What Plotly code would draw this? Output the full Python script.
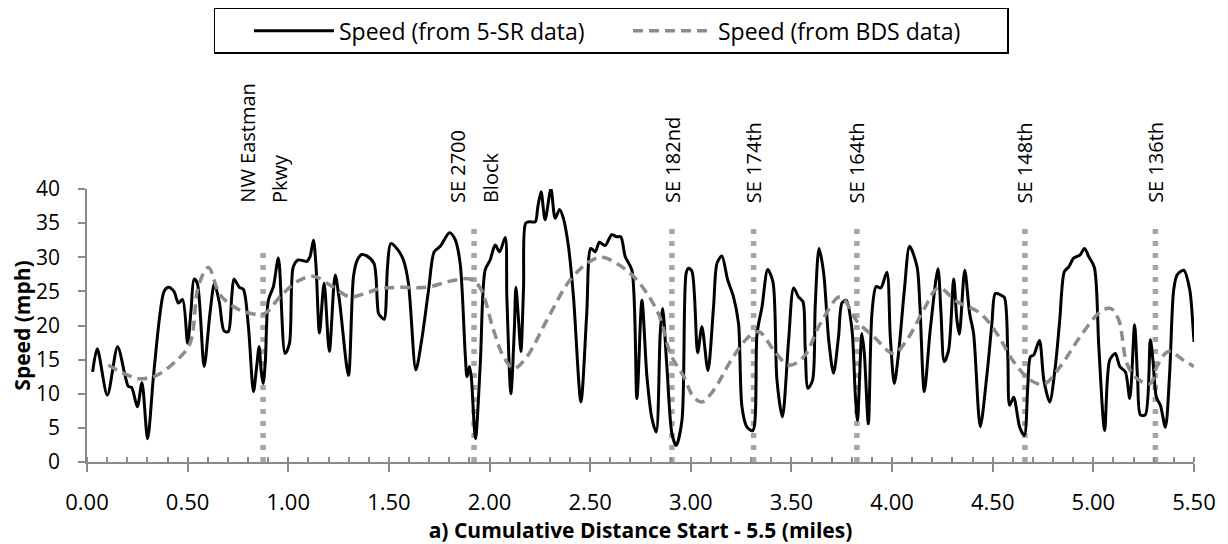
import plotly.graph_objects as go

# ---- data -------------------------------------------------------------
dist_sr = [0.028,0.051,0.101,0.152,0.189,0.205,0.222,0.25,0.273,0.301,0.33,0.363,0.383,0.404,0.432,0.454,0.475,0.5,0.517,0.532,
           0.548,0.582,0.611,0.633,0.658,0.681,0.702,0.719,0.73,0.757,0.777,0.802,0.827,0.843,0.855,0.865,0.875,0.886,0.901,0.926,
           0.951,0.984,1.006,1.025,1.05,1.092,1.108,1.125,1.138,1.155,1.178,1.204,1.233,1.254,1.299,1.324,1.343,1.365,1.39,1.426,
           1.448,1.46,1.476,1.493,1.509,1.539,1.572,1.597,1.634,1.663,1.697,1.725,1.755,1.801,1.829,1.854,1.879,1.888,1.9,1.909,
           1.93,1.954,1.978,2.003,2.028,2.05,2.078,2.086,2.106,2.123,2.131,2.144,2.156,2.169,2.18,2.202,2.227,2.24,2.256,2.276,
           2.305,2.326,2.348,2.367,2.392,2.417,2.454,2.483,2.503,2.525,2.546,2.574,2.607,2.632,2.652,2.674,2.707,2.732,2.757,2.782,
           2.806,2.828,2.848,2.86,2.881,2.906,2.927,2.956,2.977,2.989,3.006,3.034,3.055,3.085,3.113,3.13,3.154,3.183,3.212,3.237,
           3.254,3.279,3.308,3.329,3.354,3.382,3.408,3.428,3.455,3.486,3.511,3.535,3.557,3.568,3.582,3.605,3.618,3.637,3.66,3.685,
           3.709,3.734,3.751,3.772,3.8,3.817,3.828,3.85,3.862,3.882,3.9,3.921,3.944,3.974,3.991,4.011,4.032,4.061,4.087,4.124,
           4.138,4.16,4.19,4.228,4.243,4.259,4.281,4.306,4.322,4.334,4.361,4.385,4.405,4.438,4.472,4.496,4.513,4.538,4.558,4.575,
           4.584,4.604,4.634,4.657,4.674,4.687,4.704,4.732,4.754,4.783,4.811,4.833,4.856,4.878,4.903,4.933,4.956,4.977,5.005,5.027,
           5.056,5.081,5.109,5.131,5.159,5.181,5.205,5.22,5.234,5.258,5.283,5.296,5.313,5.333,5.358,5.379,5.399,5.416,5.449,5.479,
           5.495,5.5]
speed_sr = [13.2,16.6,9.8,16.9,12.7,11.1,10.9,8.1,11.6,3.4,12.5,21.8,25.0,25.6,25.0,23.3,23.8,17.4,22.3,26.8,
            26.2,14.0,21.8,26.1,23.3,19.2,19.1,24.2,26.8,25.6,25.3,19.8,10.3,14.0,16.9,13.5,11.5,14.7,23.7,25.7,
            29.9,15.9,17.4,28.6,29.6,29.4,30.1,32.5,28.6,18.9,26.2,16.2,27.4,23.7,12.7,27.2,29.6,30.4,30.2,29.1,
            21.8,21.3,20.9,28.6,32.0,31.3,29.6,26.2,13.5,17.9,25.2,30.8,31.6,33.6,32.6,29.1,15.9,12.5,14.0,12.5,
            3.4,14.4,28.1,29.6,31.8,30.8,32.9,24.2,10.0,19.3,25.6,20.8,16.2,25.7,35.0,35.2,35.2,37.4,39.6,35.5,
            40.0,35.7,37.0,35.7,31.6,24.2,8.8,21.8,31.3,30.8,32.2,31.7,33.3,33.0,33.0,30.1,28.1,9.3,23.7,12.5,
            6.5,4.4,18.8,22.5,14.0,4.2,2.4,6.1,27.7,28.4,27.9,16.0,19.8,13.4,22.8,29.1,30.2,26.7,24.2,20.3,
            8.1,5.1,4.6,18.8,22.8,28.2,26.4,12.0,6.6,17.9,25.5,24.2,23.5,16.9,10.8,12.0,22.8,31.3,27.7,17.9,
            13.0,18.4,23.3,23.7,19.6,10.0,6.1,18.8,15.9,5.6,21.8,25.7,25.5,27.8,18.4,11.5,15.9,25.2,31.6,28.6,
            23.0,10.3,19.5,28.3,21.8,14.7,16.4,26.8,20.8,18.7,28.1,21.8,18.8,5.2,13.0,20.3,24.7,24.5,24.1,15.4,
            8.3,9.5,5.1,3.9,11.0,15.4,15.7,17.8,12.0,8.8,14.0,20.8,27.9,28.6,29.9,30.3,31.3,30.1,28.5,16.9,
            4.6,14.9,15.9,14.0,13.2,9.3,20.1,12.0,6.9,6.9,17.9,14.9,9.5,8.3,5.1,13.0,25.2,27.4,28.1,25.2,
            19.8,17.6]

dist_bds = [0.106,0.18,0.263,0.346,0.446,0.512,0.553,0.603,0.661,0.744,0.827,0.885,0.959,1.042,1.125,1.208,1.307,1.39,
            1.456,1.556,1.688,1.804,1.904,1.954,2.02,2.07,2.12,2.185,2.285,2.401,2.5,2.558,2.632,2.715,2.782,2.845,
            2.898,2.965,3.014,3.055,3.113,3.196,3.279,3.337,3.412,3.486,3.561,3.644,3.743,3.826,3.908,4.008,4.074,4.157,
            4.231,4.322,4.438,4.521,4.604,4.687,4.754,4.836,4.935,5.035,5.085,5.126,5.167,5.217,5.283,5.316,5.374,5.449,5.5]
speed_bds = [14.2,13.0,12.2,12.7,14.9,17.4,25.7,28.5,24.5,22.5,21.7,21.8,24.2,26.4,27.2,25.9,24.2,24.8,
             25.4,25.6,25.6,26.5,26.8,25.5,19.3,15.4,13.7,15.4,20.8,26.7,29.4,30.0,29.1,27.2,24.7,21.3,
             15.9,12.5,9.5,8.8,10.5,14.7,18.1,19.1,16.4,14.2,15.4,20.3,24.2,20.6,18.4,15.9,17.9,22.3,
             25.5,23.5,21.8,18.8,14.7,12.0,11.4,14.0,18.4,22.0,22.5,20.8,14.4,12.2,11.5,14.0,16.2,14.9,14.0]

road_labels = [["NW Eastman", "Pkwy"], ["SE 2700", "Block"], ["SE 182nd"], ["SE 174th"],
               ["SE 164th"], ["SE 148th"], ["SE 136th"]]
road_dist = [0.875, 1.923, 2.906, 3.312, 3.825, 4.66, 5.308]
road_top = [31.0, 34.5, 34.5, 34.5, 34.5, 34.5, 34.5]

series_names = ["Speed (from 5-SR data)", "Speed (from BDS data)"]
x_ticks = [0, 0.5, 1.0, 1.5, 2.0, 2.5, 3.0, 3.5, 4.0, 4.5, 5.0, 5.5]
y_ticks = [0, 5, 10, 15, 20, 25, 30, 35, 40]

FONT = "Open Sans"
AXIS_GREY = "#8a8a8a"

fig = go.Figure()

# vertical dotted road markers
for xd, top in zip(road_dist, road_top):
    fig.add_trace(go.Scatter(
        x=[xd, xd], y=[0, top], mode="lines", showlegend=False, hoverinfo="skip",
        line=dict(color="#a6a6a6", width=5.5, dash="5px,7px"), cliponaxis=False))

fig.add_trace(go.Scatter(
    x=dist_sr, y=speed_sr, mode="lines", name=series_names[0],
    line=dict(color="black", width=3, shape="spline", smoothing=0.8), cliponaxis=False))
fig.add_trace(go.Scatter(
    x=dist_bds, y=speed_bds, mode="lines", name=series_names[1],
    line=dict(color="#8c8c8c", width=3.5, dash="10px,6px", shape="spline", smoothing=1.0), cliponaxis=False))

# road labels (rotated)
for labels, xd in zip(road_labels, road_dist):
    n = len(labels)
    for i, txt in enumerate(labels):
        fig.add_annotation(
            x=xd, xref="x", y=0.945, yref="paper", text=txt, textangle=-90,
            showarrow=False, xanchor="center", yanchor="bottom", borderpad=0,
            xshift=(i - (n - 1) / 2) * 33,
            font=dict(family=FONT, size=20, color="black"))

# the page body has an 8px margin, so the figure is 8px smaller than the window
fig.update_layout(
    width=1220, height=536,
    margin=dict(l=79, r=34, t=181, b=82, autoexpand=False),
    paper_bgcolor="white", plot_bgcolor="white",
    font=dict(family=FONT, color="black"),
    showlegend=True,
    legend=dict(orientation="h", x=0.4734, xanchor="center", y=1.664, yanchor="top",
                bordercolor="black", borderwidth=1.5, bgcolor="white",
                font=dict(family=FONT, size=23, color="black"),
                title=dict(text="&nbsp;&nbsp;&nbsp;&nbsp;", side="left",
                           font=dict(family=FONT, size=23, color="black")),
                itemwidth=80, entrywidth=284, entrywidthmode="pixels"),
    xaxis=dict(range=[0, 5.5], tickvals=x_ticks, tickformat=".2f", automargin=False,
               showgrid=False, zeroline=False, showline=True, linecolor=AXIS_GREY, linewidth=1.5,
               ticks="outside", ticklen=8, tickwidth=1.5, tickcolor=AXIS_GREY, ticklabelstandoff=12,
               minor=dict(dtick=0.1, ticks="inside", ticklen=5, tickwidth=1.5, tickcolor=AXIS_GREY),
               tickfont=dict(family=FONT, size=22, color="black"),
               title=dict(text="<b>a) Cumulative Distance Start - 5.5 (miles)</b>",
                          font=dict(family=FONT, size=21, color="black"), standoff=2)),
    yaxis=dict(range=[0, 40], tickvals=y_ticks, automargin=False,
               showgrid=False, zeroline=False, showline=True, linecolor=AXIS_GREY, linewidth=1.5,
               ticks="outside", ticklen=7, tickwidth=1.5, tickcolor=AXIS_GREY, ticklabelstandoff=14,
               tickfont=dict(family=FONT, size=21, color="black"),
               title=dict(text="<b>Speed (mph)</b>",
                          font=dict(family=FONT, size=21, color="black"), standoff=12)),
)

fig.write_html("out.html")
